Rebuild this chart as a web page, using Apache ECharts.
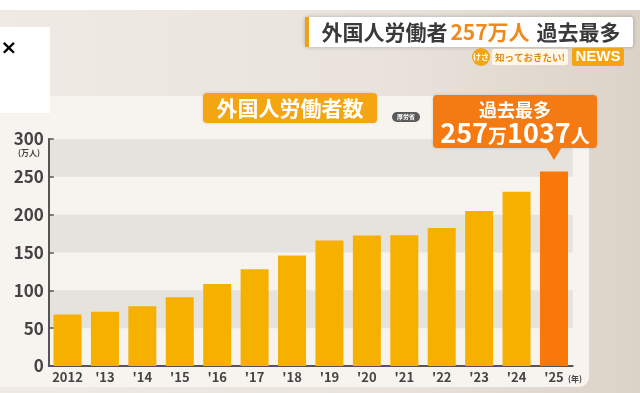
<!DOCTYPE html>
<html>
<head>
<meta charset="utf-8">
<script src="https://cdn.jsdelivr.net/npm/echarts@6/dist/echarts.min.js"></script>
<style>
html,body{margin:0;padding:0;background:#fff;}
#chart{width:640px;height:393px;}
</style>
</head>
<body>
<div id="chart"></div>
<script>
const categories = ["2012", "'13", "'14", "'15", "'16", "'17", "'18", "'19", "'20", "'21", "'22", "'23", "'24", "'25"];
const workers = [68.2, 71.8, 78.8, 90.8, 108.4, 127.9, 146.0, 165.9, 172.4, 172.7, 182.3, 204.9, 230.3, 257.1];
const yTicks = [0, 50, 100, 150, 200, 250, 300];

const JP = '"Noto Sans CJK JP", "Noto Sans", sans-serif';
const chart = echarts.init(document.getElementById('chart'), null, {renderer: 'canvas'});

const option = {
  animation: false,
  backgroundColor: {
    type: 'linear', x: 0, y: 0, x2: 1, y2: 0,
    colorStops: [{offset: 0, color: '#efeae4'}, {offset: 0.6, color: '#e9e3dc'}, {offset: 1, color: '#dcd3c8'}]
  },
  grid: {left: 48.8, right: 67.3, top: 139, bottom: 27, containLabel: false},
  xAxis: {
    type: 'category',
    data: categories,
    axisLine: {show: true, lineStyle: {color: '#555', width: 2}},
    axisTick: {show: false},
    axisLabel: {color: '#444', fontSize: 13, fontWeight: 'bold', fontFamily: JP, margin: 5, interval: 0},
    splitLine: {show: false}
  },
  yAxis: {
    type: 'value',
    min: yTicks[0], max: yTicks[yTicks.length - 1], interval: 50,
    axisLine: {show: true, lineStyle: {color: '#555', width: 2}},
    axisTick: {show: true, inside: true, length: 5, lineStyle: {color: '#555', width: 1.5}},
    axisLabel: {color: '#444', fontSize: 17, fontWeight: 'bold', fontFamily: JP, margin: 5},
    splitLine: {show: false},
    splitArea: {show: true, areaStyle: {color: ['rgba(0,0,0,0)', '#e6e3df']}}
  },
  series: [{
    type: 'bar',
    data: workers,
    barWidth: 28,
    itemStyle: {
      color: function (p) { return p.dataIndex === workers.length - 1 ? '#f8790a' : '#f5b000'; }
    }
  }],
  graphic: [
    {type: 'rect', z: -20, shape: {x: 0, y: 0, width: 640, height: 10}, style: {fill: '#ffffff'}},
    {type: 'rect', z: -10, shape: {x: -12, y: 96, width: 601, height: 291, r: 10}, style: {fill: '#f7f4f0'}},
    {type: 'rect', z: 50, shape: {x: 0, y: 27, width: 50, height: 86}, style: {fill: '#ffffff'}},
    {type: 'text', z: 51, style: {x: 9, y: 49, text: '×', fill: '#000', font: 'bold 20px "DejaVu Sans", sans-serif', align: 'center', verticalAlign: 'middle'}},
    {type: 'rect', z: 50, shape: {x: 305, y: 17, width: 328, height: 30, r: 3}, style: {fill: '#ffffff', shadowBlur: 4, shadowColor: 'rgba(0,0,0,0.25)'}},
    {type: 'rect', z: 51, shape: {x: 305, y: 17, width: 4, height: 30}, style: {fill: '#f2a012'}},
    {type: 'text', z: 52, style: {
      x: 471, y: 32, align: 'center', verticalAlign: 'middle',
      text: '{a|外国人労働者}{b|257万人}{a|過去最多}',
      rich: {
        a: {fontSize: 21, fontWeight: 'bold', fontFamily: JP, fill: '#3a3a3a', color: '#3a3a3a', padding: [0, 3, 0, 3]},
        b: {fontSize: 21, fontWeight: 'bold', fontFamily: JP, fill: '#f08a1c', color: '#f08a1c', padding: [0, 4, 0, 0]}
      }
    }},
    {type: 'circle', z: 50, shape: {cx: 481, cy: 57, r: 9}, style: {fill: '#f2a516'}},
    {type: 'text', z: 51, style: {x: 481, y: 57, text: 'けさ', fill: '#fff', font: 'bold 8px ' + JP, align: 'center', verticalAlign: 'middle'}},
    {type: 'rect', z: 50, shape: {x: 492, y: 49, width: 76, height: 16, r: 2}, style: {fill: '#fff7e8'}},
    {type: 'text', z: 51, style: {x: 530, y: 57, text: '知っておきたい!', fill: '#e58a0c', font: 'bold 9.5px ' + JP, align: 'center', verticalAlign: 'middle'}},
    {type: 'rect', z: 50, shape: {x: 572, y: 48, width: 52, height: 18, r: 2}, style: {fill: '#f4a514'}},
    {type: 'text', z: 51, style: {x: 598, y: 57, text: 'NEWS', fill: '#fff', font: 'bold 15px "Liberation Sans", Arial, sans-serif', align: 'center', verticalAlign: 'middle'}},
    {type: 'rect', z: 50, shape: {x: 203, y: 93, width: 174, height: 30, r: 4}, style: {fill: '#f4a512', shadowBlur: 3, shadowColor: 'rgba(0,0,0,0.15)'}},
    {type: 'text', z: 51, style: {x: 290, y: 108, text: '外国人労働者数', fill: '#fff', font: 'bold 21px ' + JP, align: 'center', verticalAlign: 'middle'}},
    {type: 'rect', z: 50, shape: {x: 392, y: 112, width: 28, height: 10, r: 5}, style: {fill: '#5a5a5a'}},
    {type: 'text', z: 51, style: {x: 406, y: 117, text: '厚労省', fill: '#fff', font: 'bold 6px ' + JP, align: 'center', verticalAlign: 'middle'}},
    {type: 'rect', z: 50, shape: {x: 433, y: 95, width: 164, height: 53, r: 4}, style: {fill: '#f47b14', shadowBlur: 3, shadowColor: 'rgba(0,0,0,0.15)'}},
    {type: 'polygon', z: 50, shape: {points: [[546, 147], [562, 147], [554, 160]]}, style: {fill: '#f47b14'}},
    {type: 'text', z: 51, style: {x: 515, y: 110, text: '過去最多', fill: '#fff', font: 'bold 18px ' + JP, align: 'center', verticalAlign: 'middle'}},
    {type: 'text', z: 51, style: {
      x: 515, y: 133, align: 'center', verticalAlign: 'middle',
      text: '{n|257}{u|万}{n|1037}{u|人}',
      rich: {
        n: {fontSize: 27, fontWeight: 'bold', fontFamily: JP, fill: '#fff', color: '#fff'},
        u: {fontSize: 19, fontWeight: 'bold', fontFamily: JP, fill: '#fff', color: '#fff', padding: [6, 0, 0, 0]}
      }
    }},
    {type: 'text', z: 51, style: {x: 29, y: 153, text: '(万人)', fill: '#444', font: 'bold 8px ' + JP, align: 'center', verticalAlign: 'middle'}},
    {type: 'text', z: 51, style: {x: 575, y: 379, text: '(年)', fill: '#444', font: 'bold 8px ' + JP, align: 'center', verticalAlign: 'middle'}}
  ]
};
chart.setOption(option);
</script>
</body>
</html>
